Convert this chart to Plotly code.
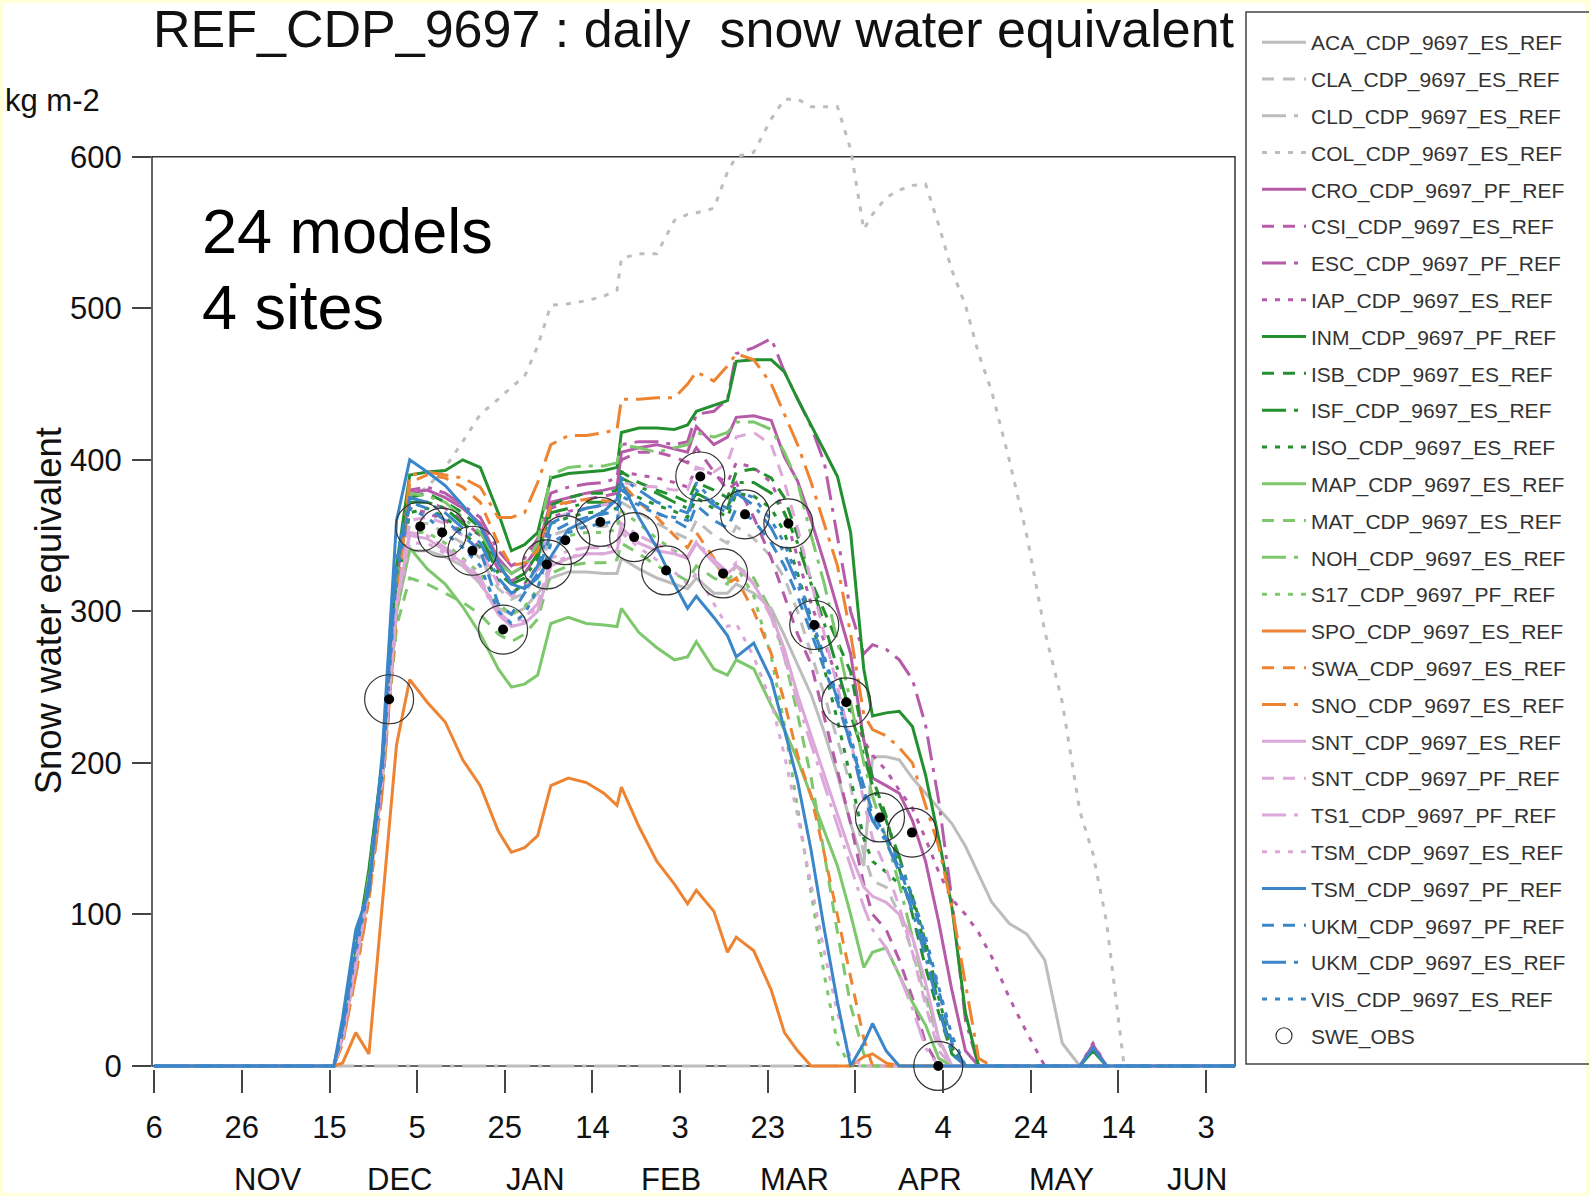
import plotly.graph_objects as go

# ---------------- data ----------------
DAYS = [0, 41, 43, 46, 49, 52, 55.3, 58.3,
        62.3, 66.4, 70.4, 74.4, 78.5, 81.5, 84.5, 87.5,
        90.5, 94.5, 98.6, 102.6, 105.6, 106.6, 110.6, 114.7,
        118.7, 121.7, 123.7, 127.7, 130.8, 132.8, 136.8, 140.8,
        143.8, 146.8, 149.9, 152.9, 155.9, 158.9, 161.9, 163.9,
        167, 170, 173, 176, 179, 182, 185.1, 188.1,
        191.1, 195.1, 199.1, 203.2, 207.2, 211.2, 214.2, 217.3,
        221.3, 246.6]

ACA = [0, 0, 18, 65, 115, 185, 300, 340,
       340, 336, 330, 318, 302, 298, 302, 312,
       322, 326, 326, 325, 325, 335, 328, 322,
       318, 315, 322, 312, 312, 318, 312, 302,
       284, 265, 245, 220, 192, 160, 132, 204,
       204, 202, 190, 180, 170, 160, 145, 126,
       108, 94, 87, 70, 15, 0, 0, 0,
       0, 0]
CLA = [0, 0, 18, 68, 118, 188, 308, 358,
       358, 352, 345, 335, 315, 308, 312, 325,
       350, 354, 356, 356, 358, 372, 365, 358,
       352, 348, 360, 350, 345, 356, 348, 336,
       322, 300, 272, 245, 215, 185, 140, 122,
       118, 100, 75, 45, 15, 0, 0, 0,
       0, 0, 0, 0, 0, 0, 0, 0,
       0, 0]
CLD = [0, 0, 0, 0, 0, 0, 0, 0,
       0, 0, 0, 0, 0, 0, 0, 0,
       0, 0, 0, 0, 0, 0, 0, 0,
       0, 0, 0, 0, 0, 0, 0, 0,
       0, 0, 0, 0, 0, 0, 0, 0,
       0, 0, 0, 0, 0, 0, 0, 0,
       0, 0, 0, 0, 0, 0, 0, 0,
       0, 0]
COL = [0, 0, 18, 68, 120, 190, 310, 375,
       382, 395, 412, 430, 440, 448, 455, 475,
       502, 503, 505, 508, 512, 533, 536, 536,
       558, 562, 563, 566, 590, 600, 603, 625,
       638, 638, 633, 633, 633, 605, 552, 562,
       573, 578, 581, 582, 555, 525, 502, 470,
       445, 400, 350, 287, 240, 168, 140, 95,
       0, 0]
CRO = [0, 0, 20, 70, 125, 195, 320, 378,
       380, 375, 368, 358, 335, 325, 330, 342,
       372, 375, 378, 380, 382, 405, 408, 410,
       407, 405, 422, 410, 415, 428, 429, 426,
       402, 386, 360, 332, 302, 272, 215, 190,
       185, 180, 162, 135, 95, 50, 10, 0,
       0, 0, 0, 0, 0, 0, 14, 0,
       0, 0]
CSI = [0, 0, 18, 68, 120, 190, 315, 372,
       372, 368, 360, 350, 328, 320, 325, 338,
       368, 372, 374, 376, 378, 400, 405, 405,
       402, 398, 408, 392, 380, 385, 362, 335,
       310, 285, 265, 230, 195, 160, 120, 100,
       90, 70, 45, 15, 0, 0, 0, 0,
       0, 0, 0, 0, 0, 0, 0, 0,
       0, 0]
ESC = [0, 0, 20, 70, 125, 195, 320, 380,
       382, 378, 370, 362, 340, 330, 335, 348,
       378, 382, 384, 385, 388, 410, 412, 412,
       410, 412, 430, 432, 440, 470, 474, 480,
       458, 440, 422, 398, 350, 300, 272, 278,
       275, 268, 255, 225, 175, 110, 30, 0,
       0, 0, 0, 0, 0, 0, 0, 0,
       0, 0]
IAP = [0, 0, 18, 68, 120, 190, 312, 368,
       365, 360, 352, 342, 320, 312, 318, 330,
       362, 366, 368, 370, 372, 392, 390, 388,
       385, 382, 395, 390, 385, 398, 395, 385,
       365, 335, 305, 280, 255, 235, 215, 205,
       195, 182, 170, 150, 128, 110, 100, 88,
       72, 45, 22, 0, 0, 0, 15, 0,
       0, 0]
INM = [0, 0, 25, 75, 130, 200, 330, 390,
       392, 393, 400, 395, 365, 340, 344, 352,
       388, 391, 392, 393, 395, 418, 421, 421,
       420, 423, 432, 436, 439, 465, 466, 466,
       458, 440, 423, 406, 389, 352, 262, 231,
       233, 234, 224, 192, 150, 105, 35, 0,
       0, 0, 0, 0, 0, 0, 10, 0,
       0, 0]
ISB = [0, 0, 20, 70, 125, 195, 320, 375,
       378, 372, 365, 355, 330, 320, 325, 338,
       370, 375, 378, 378, 380, 392, 385, 380,
       376, 372, 385, 380, 375, 392, 394, 388,
       375, 350, 320, 300, 280, 260, 215, 190,
       165, 130, 100, 65, 35, 8, 0, 0,
       0, 0, 0, 0, 0, 0, 0, 0,
       0, 0]
ISF = [0, 0, 22, 72, 128, 198, 322, 372,
       372, 368, 358, 350, 325, 318, 322, 335,
       365, 368, 372, 372, 374, 388, 382, 378,
       372, 368, 378, 372, 368, 385, 385, 378,
       365, 345, 318, 292, 262, 232, 205, 185,
       162, 138, 110, 78, 40, 10, 0, 0,
       0, 0, 0, 0, 0, 0, 0, 0,
       0, 0]
ISO = [0, 0, 20, 70, 120, 190, 315, 365,
       368, 362, 352, 342, 320, 312, 318, 330,
       358, 362, 365, 366, 368, 380, 375, 370,
       366, 362, 375, 368, 362, 378, 376, 368,
       352, 325, 295, 262, 228, 190, 150, 135,
       128, 120, 112, 82, 45, 12, 0, 0,
       0, 0, 0, 0, 0, 0, 0, 0,
       0, 0]
MAP = [0, 0, 22, 70, 120, 190, 300, 342,
       328, 318, 303, 285, 262, 250, 252, 258,
       292, 296, 292, 291, 290, 302, 286, 276,
       268, 270, 280, 262, 258, 268, 262, 238,
       222, 202, 178, 156, 132, 100, 65, 75,
       78, 60, 42, 27, 5, 0, 0, 0,
       0, 0, 0, 0, 0, 0, 0, 0,
       0, 0]
MAT = [0, 0, 20, 68, 118, 185, 290, 322,
       318, 312, 306, 298, 285, 280, 285, 295,
       325, 330, 332, 332, 334, 345, 338, 330,
       325, 320, 330, 322, 318, 330, 322, 300,
       270, 232, 190, 140, 88, 40, 8, 0,
       0, 0, 0, 0, 0, 0, 0, 0,
       0, 0, 0, 0, 0, 0, 0, 0,
       0, 0]
NOH = [0, 0, 22, 72, 125, 195, 325, 378,
       376, 372, 362, 352, 332, 325, 330, 345,
       390, 395, 396, 396, 398, 410, 408, 405,
       408, 410, 418, 415, 418, 425, 425, 420,
       405, 385, 350, 318, 280, 240, 200, 178,
       150, 120, 85, 50, 18, 0, 0, 0,
       0, 0, 0, 0, 0, 0, 0, 0,
       0, 0]
S17 = [0, 0, 20, 70, 122, 190, 305, 352,
       352, 345, 335, 325, 305, 298, 303, 315,
       345, 350, 352, 352, 354, 366, 358, 348,
       340, 335, 345, 332, 322, 330, 310, 270,
       225, 170, 115, 60, 15, 0, 0, 0,
       0, 0, 0, 0, 0, 0, 0, 0,
       0, 0, 0, 0, 0, 0, 0, 0,
       0, 0]
SPO = [0, 0, 2, 22, 8, 105, 212, 255,
       240, 227, 202, 185, 155, 141, 144, 152,
       185, 190, 187, 180, 172, 184, 158, 135,
       120, 107, 116, 102, 75, 85, 76, 50,
       22, 10, 0, 0, 0, 0, 6, 8,
       2, 0, 0, 0, 0, 0, 0, 0,
       0, 0, 0, 0, 0, 0, 0, 0,
       0, 0]
SWA = [0, 0, 15, 60, 110, 180, 300, 385,
       390, 388, 382, 372, 345, 330, 332, 340,
       370, 372, 374, 373, 372, 385, 372, 362,
       350, 342, 352, 335, 318, 322, 300, 272,
       240, 205, 178, 140, 100, 58, 18, 0,
       0, 0, 0, 0, 0, 0, 0, 0,
       0, 0, 0, 0, 0, 0, 0, 0,
       0, 0]
SNO = [0, 0, 15, 60, 110, 180, 300, 390,
       392, 390, 388, 382, 362, 362, 365, 385,
       410, 416, 416, 418, 420, 440, 440, 441,
       441, 450, 458, 452, 462, 470, 466, 450,
       430, 410, 385, 357, 330, 285, 232, 222,
       218, 210, 200, 172, 145, 105, 55, 5,
       0, 0, 0, 0, 0, 0, 0, 0,
       0, 0]
SNT_ES = [0, 0, 20, 68, 120, 190, 305, 350,
          348, 340, 332, 320, 298, 290, 292, 300,
          330, 335, 338, 338, 340, 355, 345, 340,
          338, 335, 345, 332, 325, 330, 318, 298,
          275, 245, 218, 192, 165, 140, 118, 112,
          108, 100, 85, 55, 18, 0, 0, 0,
          0, 0, 0, 0, 0, 0, 0, 0,
          0, 0]
SNT_PF = [0, 0, 18, 66, 118, 188, 305, 360,
          362, 358, 350, 340, 318, 310, 315, 328,
          360, 365, 368, 370, 372, 385, 383, 382,
          380, 380, 395, 392, 398, 415, 418, 410,
          385, 355, 320, 285, 250, 215, 175, 150,
          130, 105, 75, 40, 10, 0, 0, 0,
          0, 0, 0, 0, 0, 0, 0, 0,
          0, 0]
TS1 = [0, 0, 20, 70, 122, 192, 305, 352,
       350, 342, 334, 322, 300, 292, 296, 305,
       335, 340, 342, 342, 344, 358, 350, 344,
       340, 336, 346, 334, 326, 332, 318, 296,
       270, 240, 212, 185, 158, 132, 105, 90,
       78, 60, 38, 12, 0, 0, 0, 0,
       0, 0, 0, 0, 0, 0, 0, 0,
       0, 0]
TSM_ES = [0, 0, 20, 68, 120, 190, 302, 345,
          345, 338, 330, 318, 298, 290, 294, 304,
          332, 336, 338, 338, 340, 352, 342, 334,
          326, 318, 325, 305, 290, 292, 270, 240,
          205, 165, 120, 75, 35, 5, 0, 0,
          0, 0, 0, 0, 0, 0, 0, 0,
          0, 0, 0, 0, 0, 0, 0, 0,
          0, 0]
TSM_PF = [0, 0, 32, 90, 115, 205, 360, 400,
          392, 383, 370, 356, 332, 318, 315, 322,
          336, 354, 360, 366, 374, 385, 362, 342,
          318, 302, 310, 296, 284, 270, 279, 255,
          222, 188, 142, 90, 42, 0, 15, 28,
          10, 0, 0, 0, 0, 0, 0, 0,
          0, 0, 0, 0, 0, 0, 12, 0,
          0, 0]
UKM_PF = [0, 0, 25, 80, 120, 195, 330, 372,
          368, 360, 350, 340, 305, 298, 312, 325,
          352, 358, 362, 364, 366, 380, 372, 365,
          360, 355, 370, 360, 355, 368, 360, 345,
          330, 310, 285, 262, 240, 212, 185, 168,
          150, 130, 108, 80, 50, 15, 0, 0,
          0, 0, 0, 0, 0, 0, 0, 0,
          0, 0]
UKM_ES = [0, 0, 25, 82, 122, 198, 335, 375,
          372, 365, 355, 345, 322, 312, 316, 330,
          358, 364, 368, 370, 372, 388, 380, 372,
          368, 365, 380, 370, 365, 378, 370, 355,
          338, 318, 292, 268, 242, 212, 178, 162,
          148, 128, 102, 72, 38, 8, 0, 0,
          0, 0, 0, 0, 0, 0, 0, 0,
          0, 0]
VIS = [0, 0, 22, 75, 118, 190, 325, 368,
       362, 352, 342, 330, 300, 292, 298, 315,
       345, 352, 356, 358, 360, 376, 370, 364,
       362, 360, 385, 372, 368, 380, 375, 360,
       345, 322, 296, 270, 245, 218, 182, 165,
       152, 135, 112, 85, 52, 20, 0, 0,
       0, 0, 0, 0, 0, 0, 0, 0,
       0, 0]

OBS_DAYS = [53.6, 60.7, 65.7, 72.6, 79.6, 89.6, 93.8, 101.8, 109.5, 116.8,
            124.6, 129.8, 134.8, 144.7, 150.6, 157.9, 165.6, 172.9, 178.9]
OBS_SWE = [242, 356, 352, 340, 288, 331, 347, 359, 349, 327,
           389, 325, 364, 358, 291, 240, 164, 154, 0]

X_TICK_DAYS = [0, 20, 40, 60, 80, 100, 120, 140, 160, 180, 200, 220, 240]
X_TICK_TEXT = ["6", "26", "15", "5", "25", "14", "3", "23", "15", "4", "24", "14", "3"]
MONTH_DAYS = [26, 56, 87, 118, 146, 177, 207, 238]
MONTH_TEXT = ["NOV", "DEC", "JAN", "FEB", "MAR", "APR", "MAY", "JUN"]
Y_TICKS = [0, 100, 200, 300, 400, 500, 600]

# ---------------- styles ----------------
GREY = "#BDBDBD"
MAGENTA = "#B65BA9"
DKGREEN = "#23902F"
LTGREEN = "#7DC76C"
ORANGE = "#EE8432"
PINK = "#DCA8D9"
BLUE = "#3A86C9"
SOLID = "solid"
DASH = "12px,9px"
DASHDOT = "24px,8px,4px,8px"
DOT = "5px,8px"

SERIES = [
    ("ACA_CDP_9697_ES_REF", ACA, GREY, SOLID),
    ("CLA_CDP_9697_ES_REF", CLA, GREY, DASH),
    ("CLD_CDP_9697_ES_REF", CLD, GREY, DASHDOT),
    ("COL_CDP_9697_ES_REF", COL, GREY, DOT),
    ("CRO_CDP_9697_PF_REF", CRO, MAGENTA, SOLID),
    ("CSI_CDP_9697_ES_REF", CSI, MAGENTA, DASH),
    ("ESC_CDP_9697_PF_REF", ESC, MAGENTA, DASHDOT),
    ("IAP_CDP_9697_ES_REF", IAP, MAGENTA, DOT),
    ("INM_CDP_9697_PF_REF", INM, DKGREEN, SOLID),
    ("ISB_CDP_9697_ES_REF", ISB, DKGREEN, DASH),
    ("ISF_CDP_9697_ES_REF", ISF, DKGREEN, DASHDOT),
    ("ISO_CDP_9697_ES_REF", ISO, DKGREEN, DOT),
    ("MAP_CDP_9697_ES_REF", MAP, LTGREEN, SOLID),
    ("MAT_CDP_9697_ES_REF", MAT, LTGREEN, DASH),
    ("NOH_CDP_9697_ES_REF", NOH, LTGREEN, DASHDOT),
    ("S17_CDP_9697_PF_REF", S17, LTGREEN, DOT),
    ("SPO_CDP_9697_ES_REF", SPO, ORANGE, SOLID),
    ("SWA_CDP_9697_ES_REF", SWA, ORANGE, DASH),
    ("SNO_CDP_9697_ES_REF", SNO, ORANGE, DASHDOT),
    ("SNT_CDP_9697_ES_REF", SNT_ES, PINK, SOLID),
    ("SNT_CDP_9697_PF_REF", SNT_PF, PINK, DASH),
    ("TS1_CDP_9697_PF_REF", TS1, PINK, DASHDOT),
    ("TSM_CDP_9697_ES_REF", TSM_ES, PINK, DOT),
    ("TSM_CDP_9697_PF_REF", TSM_PF, BLUE, SOLID),
    ("UKM_CDP_9697_PF_REF", UKM_PF, BLUE, DASH),
    ("UKM_CDP_9697_ES_REF", UKM_ES, BLUE, DASHDOT),
    ("VIS_CDP_9697_ES_REF", VIS, BLUE, DOT),
]
for nm, vals, _, _ in SERIES:
    assert len(vals) == len(DAYS), (nm, len(vals))

# ---------------- geometry (pixels) ----------------
W, H = 1589, 1196
PL, PR = 152, 1235
PT, PB = 84, 1069
X_RANGE = [-0.5, 246.6]
Y_RANGE = [-2, 648]


def px_x(px):
    return (px - PL) / (PR - PL)


def px_y(py):
    return (PB - py) / (PB - PT)


FONT = "Arial, Liberation Sans, Helvetica, sans-serif"

fig = go.Figure()
for i, (nm, vals, col, dash) in enumerate(SERIES):
    fig.add_trace(go.Scatter(
        x=DAYS, y=vals, mode="lines", name=nm, legendgroup="g%d" % i,
        line=dict(color=col, width=3.0, dash=dash), hoverinfo="skip"))

fig.add_trace(go.Scatter(
    x=OBS_DAYS, y=OBS_SWE, mode="markers", showlegend=False, cliponaxis=False,
    marker=dict(symbol="circle-open", size=49, color="#333333", line=dict(width=1.2)),
    hoverinfo="skip"))
fig.add_trace(go.Scatter(
    x=OBS_DAYS, y=OBS_SWE, mode="markers", showlegend=False, cliponaxis=False,
    marker=dict(symbol="circle", size=10, color="black"), hoverinfo="skip"))
fig.add_trace(go.Scatter(
    x=[None], y=[None], mode="markers", name="SWE_OBS", legendgroup="obs",
    marker=dict(symbol="circle-open", size=22, color="#333333", line=dict(width=1.2))))

shapes = [
    dict(type="rect", xref="paper", yref="paper", x0=px_x(3), x1=px_x(1586),
         y0=px_y(1193), y1=px_y(3), fillcolor="white", line=dict(width=0), layer="below"),
    dict(type="rect", xref="paper", yref="y", x0=0, x1=1, y0=0, y1=600,
         line=dict(color="#333333", width=1.5), layer="below"),
    dict(type="rect", xref="paper", yref="paper", x0=px_x(1246), x1=px_x(1610),
         y0=px_y(1064), y1=px_y(12), line=dict(color="#444444", width=1.5)),
]

annotations = [
    dict(text="REF_CDP_9697 : daily\u00a0 snow water equivalent", xref="paper", yref="paper",
         x=px_x(694), y=px_y(29), xanchor="center", yanchor="middle", showarrow=False,
         font=dict(family=FONT, size=52, color="#111111")),
    dict(text="kg m-2", xref="paper", yref="paper", x=px_x(3), y=px_y(101),
         xanchor="left", yanchor="middle", showarrow=False,
         font=dict(family=FONT, size=31, color="#111111")),
    dict(text="Snow water equivalent", xref="paper", yref="y", x=px_x(48), y=300,
         xanchor="center", yanchor="middle", textangle=-90, showarrow=False,
         font=dict(family=FONT, size=36.5, color="#111111")),
    dict(text="24 models", xref="paper", yref="paper", x=px_x(200), y=px_y(231),
         xanchor="left", yanchor="middle", showarrow=False,
         font=dict(family=FONT, size=63, color="black")),
    dict(text="4 sites", xref="paper", yref="paper", x=px_x(200), y=px_y(307),
         xanchor="left", yanchor="middle", showarrow=False,
         font=dict(family=FONT, size=63, color="black")),
]
for d, t in zip(MONTH_DAYS, MONTH_TEXT):
    annotations.append(dict(text=t, xref="x", yref="paper", x=d, y=px_y(1179),
                            xanchor="center", yanchor="middle", showarrow=False,
                            font=dict(family=FONT, size=31, color="#111111")))

fig.update_layout(
    width=W, height=H,
    margin=dict(l=PL, r=W - PR, t=PT, b=H - PB, pad=0),
    paper_bgcolor="#FFFFD8", plot_bgcolor="white",
    shapes=shapes, annotations=annotations,
    showlegend=True,
    legend=dict(x=px_x(1257), y=px_y(22), xanchor="left", yanchor="top",
                bgcolor="rgba(0,0,0,0)", borderwidth=0, tracegroupgap=6.5,
                itemwidth=44, maxheight=1150,
                font=dict(family=FONT, size=21, color="#333333")),
    xaxis=dict(range=X_RANGE, tickmode="array", tickvals=X_TICK_DAYS, ticktext=X_TICK_TEXT,
               ticks="outside", ticklen=23, tickwidth=1.5, tickcolor="#444444",
               showline=False, showgrid=False, zeroline=False, ticklabelstandoff=8,
               tickfont=dict(family=FONT, size=31, color="#111111")),
    yaxis=dict(range=Y_RANGE, tickmode="array", tickvals=Y_TICKS,
               ticks="outside", ticklen=19, tickwidth=1.5, tickcolor="#444444",
               showline=False, showgrid=False, zeroline=False, ticklabelstandoff=4,
               tickfont=dict(family=FONT, size=31, color="#111111")),
)

fig.write_html("out.html", config={"displayModeBar": False})
